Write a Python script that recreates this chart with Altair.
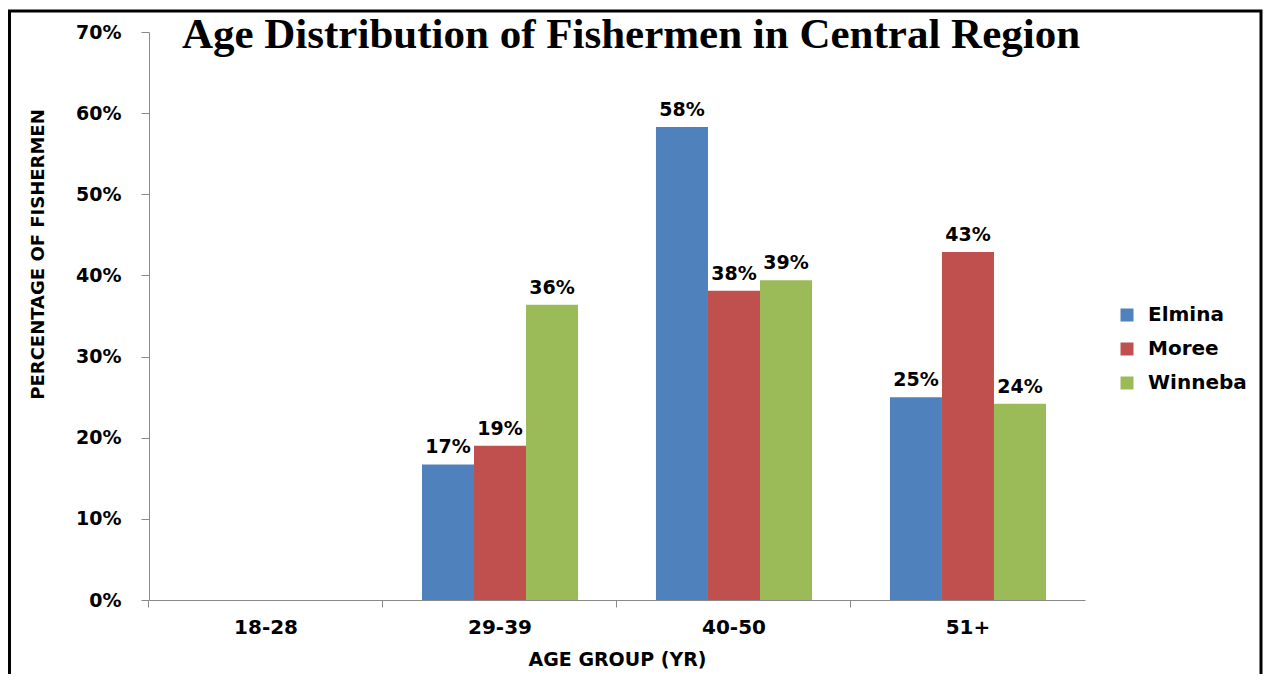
import altair as alt
import pandas as pd

groups = ["18-28", "29-39", "40-50", "51+"]
towns = ["Elmina", "Moree", "Winneba"]
elmina = [0.0, 0.167, 0.583, 0.250]
moree = [0.0, 0.190, 0.381, 0.429]
winneba = [0.0, 0.364, 0.394, 0.242]
colors = ["#4F81BD", "#C0504D", "#9BBB59"]
y_ticks = [0, 0.1, 0.2, 0.3, 0.4, 0.5, 0.6, 0.7]

rows = []
for town, vals in zip(towns, [elmina, moree, winneba]):
    for g, v in zip(groups, vals):
        rows.append({"group": g, "town": town, "value": v})
df = pd.DataFrame(rows)

FONT = "DejaVu Sans"
W, H = 936, 568

x = alt.X("group:N", sort=groups,
          scale=alt.Scale(paddingInner=0.333, paddingOuter=0.1667),
          axis=alt.Axis(title="AGE GROUP (YR)", labelAngle=0, labelFont=FONT,
                        labelFontWeight="bold", labelFontSize=20, labelColor="black",
                        labelPadding=10, tickSize=7, tickColor="#898989",
                        domainColor="#898989", bandPosition=-0.25,
                        titleFont=FONT, titleFontWeight="bold", titleFontSize=19,
                        titleColor="black", titleY=59, titleBaseline="middle"))
xo = alt.XOffset("town:N", sort=towns, scale=alt.Scale(paddingInner=0, paddingOuter=0))
y = alt.Y("value:Q", scale=alt.Scale(domain=[0, 0.7], nice=False),
          axis=alt.Axis(values=y_ticks, format=".0%", title="PERCENTAGE OF FISHERMEN",
                        grid=False, labelFont=FONT, labelFontWeight="bold",
                        labelFontSize=19, labelColor="black", labelPadding=20,
                        tickSize=8, tickColor="#898989", domainColor="#898989",
                        titleFont=FONT, titleFontWeight="bold", titleFontSize=18,
                        titleColor="black", titleAngle=270, titleX=-111, titleY=222,
                        titleAlign="center", titleBaseline="middle"))
color = alt.Color("town:N", sort=towns, scale=alt.Scale(domain=towns, range=colors),
                  legend=alt.Legend(title=None, orient="none", legendX=968, legendY=273,
                                    symbolType="square", symbolSize=169,
                                    symbolStrokeWidth=0, labelFont=FONT,
                                    labelFontWeight="bold", labelFontSize=20,
                                    labelColor="black", rowPadding=14, labelOffset=11))

base = alt.Chart(df)
bars = base.mark_bar().encode(x=x, xOffset=xo, y=y, color=color)
labels = base.mark_text(font=FONT, fontWeight="bold", fontSize=19,
                        baseline="alphabetic", dy=-11, color="black").encode(
    x=x, xOffset=xo, y=y, text=alt.Text("value:Q", format=".0%")
).transform_filter("datum.value > 0")

title_df = pd.DataFrame({"t": ["Age Distribution of Fishermen in Central Region"]})
title = alt.Chart(title_df).mark_text(font="Liberation Serif", fontWeight="bold",
                                      fontSize=43, baseline="alphabetic", align="center",
                                      color="black").encode(
    text="t:N", x=alt.value(482), y=alt.value(16))

frame = alt.Chart(pd.DataFrame({"a": [0]})).mark_rect(
    fill=None, stroke="black", strokeWidth=3, clip=False).encode(
    x=alt.value(-139.5), x2=alt.value(1112), y=alt.value(-21), y2=alt.value(720))

chart = alt.layer(frame, bars, labels, title).properties(
    width=W, height=H,
    background="white",
    autosize=alt.AutoSizeParams(type="none"),
    padding={"left": 141, "top": 24, "right": 178, "bottom": 74},
).configure_view(stroke=None)

chart.save("out.html", embed_options={"renderer": "svg", "actions": False})
